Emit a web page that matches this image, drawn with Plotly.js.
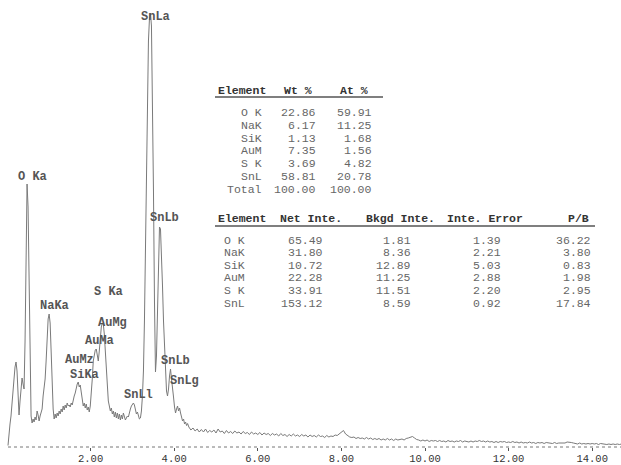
<!DOCTYPE html>
<html>
<head>
<meta charset="utf-8">
<script src="https://cdn.plot.ly/plotly-3.0.1.min.js"></script>
<style>html,body{margin:0;padding:0;background:#fff;}#chart{width:621px;height:465px;}</style>
</head>
<body>
<div id="chart"></div>
<script>
// ---- spectrum data (keV, counts) ----
var energy = [
0.024,0.048,0.072,0.096,0.120,0.144,0.168,0.192,0.216,0.240,
0.264,0.288,0.312,0.336,0.360,0.384,0.408,0.432,0.456,0.480,
0.504,0.528,0.552,0.576,0.600,0.624,0.648,0.672,0.696,0.720,
0.744,0.768,0.792,0.816,0.840,0.864,0.888,0.912,0.936,0.960,
0.984,1.008,1.032,1.056,1.080,1.104,1.128,1.152,1.176,1.200,
1.224,1.248,1.272,1.296,1.320,1.344,1.368,1.392,1.416,1.440,
1.464,1.488,1.512,1.536,1.560,1.584,1.608,1.632,1.656,1.680,
1.704,1.728,1.752,1.776,1.800,1.824,1.848,1.872,1.896,1.920,
1.944,1.968,1.992,2.016,2.040,2.064,2.088,2.112,2.136,2.160,
2.184,2.208,2.232,2.256,2.280,2.304,2.328,2.352,2.376,2.400,
2.424,2.448,2.472,2.496,2.520,2.544,2.568,2.592,2.616,2.640,
2.664,2.688,2.712,2.736,2.760,2.784,2.808,2.832,2.856,2.880,
2.904,2.928,2.952,2.976,3.000,3.024,3.048,3.072,3.096,3.120,
3.144,3.168,3.192,3.216,3.240,3.264,3.288,3.312,3.336,3.360,
3.384,3.408,3.432,3.456,3.480,3.504,3.528,3.552,3.576,3.600,
3.624,3.648,3.672,3.696,3.720,3.744,3.768,3.792,3.816,3.840,
3.864,3.888,3.912,3.936,3.960,3.984,4.008,4.032,4.056,4.080,
4.104,4.128,4.152,4.176,4.200,4.224,4.248,4.272,4.296,4.320,
4.35,4.40,4.45,4.50,4.55,4.60,4.65,4.70,4.75,4.80,
4.85,4.90,4.95,5.00,5.05,5.10,5.15,5.20,5.25,5.30,
5.35,5.40,5.45,5.50,5.55,5.60,5.65,5.70,5.75,5.80,
5.85,5.90,5.95,6.00,6.05,6.10,6.15,6.20,6.25,6.30,
6.35,6.40,6.45,6.50,6.55,6.60,6.65,6.70,6.75,6.80,
6.85,6.90,6.95,7.00,7.05,7.10,7.15,7.20,7.25,7.30,
7.35,7.40,7.45,7.50,7.55,7.60,7.65,7.70,7.75,7.80,
7.85,7.90,7.95,8.00,8.05,8.10,8.15,8.20,8.25,8.30,
8.35,8.40,8.45,8.50,8.55,8.60,8.65,8.70,8.75,8.80,
8.85,8.90,8.95,9.00,9.05,9.10,9.15,9.20,9.25,9.30,
9.35,9.40,9.45,9.50,9.55,9.60,9.65,9.70,9.75,9.80,
9.85,9.90,9.95,10.00,10.05,10.10,10.15,10.20,10.25,10.30,
10.35,10.40,10.45,10.50,10.55,10.60,10.65,10.70,10.75,10.80,
10.85,10.90,10.95,11.00,11.05,11.10,11.15,11.20,11.25,11.30,
11.35,11.40,11.45,11.50,11.55,11.60,11.65,11.70,11.75,11.80,
11.85,11.90,11.95,12.00,12.05,12.10,12.15,12.20,12.25,12.30,
12.35,12.40,12.45,12.50,12.55,12.60,12.65,12.70,12.75,12.80,
12.85,12.90,12.95,13.00,13.05,13.10,13.15,13.20,13.25,13.30,
13.35,13.40,13.45,13.50,13.55,13.60,13.65,13.70,13.75,13.80,
13.85,13.90,13.95,14.00,14.05,14.10,14.15,14.20,14.25,14.30,
14.35,14.40,14.45,14.50,14.55,14.60,14.65,14.70
];
var counts = [
1.5,16,23,31,41,56,68,80,85,76,
51,32,46,61,69,63,58,106,206,263,
240,156,66,31,24,28,25,30,27,36,
32,26,31,35,38,51,61,68,86,111,
128,133,124,96,61,38,28,33,29,34,
31,36,33,38,35,41,37,42,39,44,
41,42,40,44,42,48,51,54,60,63,
65,60,62,53,46,41,44,39,43,37,
40,35,41,51,68,86,94,97,98,91,
86,96,111,120,124,123,113,94,71,54,
46,41,36,39,33,36,30,35,29,34,
28,33,27,32,28,34,30,27,29,31,
30,35,38,41,42,44,42,37,33,35,
30,28,29,36,51,76,126,196,276,351,
406,428,434,421,356,256,146,75,91,146,
201,220,218,196,161,126,96,71,56,51,
58,71,78,68,61,50,40,34,38,41,
36,39,34,28,26,28,23,25,21.5,23.5,
20,17,19,16,18,15,17.5,15,18,14.5,
16.5,15,17,14,18,15,16,13.5,16.5,14,
15.5,13.5,16,14,15,13,15.5,13.5,14.5,12.5,
15,13,14,12.5,14.5,12,14,12.5,13.5,11.5,
13.5,12,13,11,13.5,11.5,12.5,10.5,12.5,11,
13,11,12,10.5,12.5,11,12,10,12,10.5,
11.5,10,12,10.5,11,9.5,11.5,10,11,10.5,
12,11.5,13.5,14.5,16.5,13,11,10,9.5,10,
8.5,9.5,8.5,9,8,9.5,8,9,7.5,8.5,
7.5,8.5,7,8,7,8.5,7,8,6.5,8,
7,7.5,8,7,8.5,9,10,10.5,9,7.5,
7,6,7,6,7,5.5,6.5,6,6.5,5.5,
6.5,5.5,6,5,6.5,5.5,6,5,6,5.5,
6.5,5,6,5.5,5,6,5,6,5.5,6.5,
5.5,6,5,6,5,5.5,4.5,5.5,4.5,5.5,
5,5.5,4.5,5,4.5,5.5,4.5,5,4,5,
4,4.5,4,5,4,4.5,3.5,4.5,4,4.5,
3.5,4.5,4,4,3.5,4.5,3.5,4,4,4.5,
4,5,5,4.5,4,3.5,3,4,3,3.5,
3,3.5,3,3.5,3,3.5,2.5,3.5,3,3,
2.5,3,2.5,3,2.5,3,2.5,3
];

// ---- axis ticks ----
var tickVals = [2, 4, 6, 8, 10, 12, 14];
var tickText = ["2.00", "4.00", "6.00", "8.00", "10.00", "12.00", "14.00"];

// ---- peak labels ----
var peakLabels = ["O Ka", "NaKa", "SiKa", "AuMz", "AuMa", "AuMg", "S Ka", "SnLl", "SnLa", "SnLb", "SnLb", "SnLg"];

// ---- quantification tables ----
var t1Header = ["Element", "Wt %", "At %"];
var t1Elements = ["O K", "NaK", "SiK", "AuM", "S K", "SnL", "Total"];
var t1Wt = ["22.86", "6.17", "1.13", "7.35", "3.69", "58.81", "100.00"];
var t1At = ["59.91", "11.25", "1.68", "1.56", "4.82", "20.78", "100.00"];

var t2Header = ["Element", "Net Inte.", "Bkgd Inte.", "Inte. Error", "P/B"];
var t2Elements = ["O K", "NaK", "SiK", "AuM", "S K", "SnL"];
var t2Net = ["65.49", "31.80", "10.72", "22.28", "33.91", "153.12"];
var t2Bkgd = ["1.81", "8.36", "12.89", "11.25", "11.51", "8.59"];
var t2Err = ["1.39", "2.21", "5.03", "2.88", "2.20", "0.92"];
var t2PB = ["36.22", "3.80", "0.83", "1.98", "2.95", "17.84"];

// ---- layout helpers (pixel -> paper) ----
var W = 621, H = 465, ML = 7, MR = 0, MT = 0, MB = 18;
var PW = W - ML - MR, PH = H - MT - MB;
function px(x) { return (x - ML) / PW; }
function py(y) { return (PH + MT - y) / PH; }

var mono = "Liberation Mono, Courier New, monospace";
var annotations = [];
var shapes = [];

// peak label positions (pixel centers)
var peakPos = [[32,177],[54,306],[84,375],[79.5,360],[99.5,341],[112.5,323],[108,292],[138,395],[155,17],[164,218],[175,361],[184,381]];
peakLabels.forEach(function (t, i) {
  annotations.push({
    xref: "paper", yref: "paper", x: px(peakPos[i][0]), y: py(peakPos[i][1]),
    xanchor: "center", yanchor: "middle", showarrow: false, text: "<b>" + t + "</b>",
    font: { family: mono, size: 12, color: "#555" }
  });
});

function cell(text, x, y, anchor, bold, color) {
  annotations.push({
    xref: "paper", yref: "paper", x: px(x), y: py(y), xanchor: anchor, yanchor: "middle",
    showarrow: false, text: bold ? "<b>" + text + "</b>" : text,
    font: { family: mono, size: 11.5, color: color }
  });
}

// table 1
var t1HeadX = [216, 282, 338];
t1Header.forEach(function (h, i) { cell(h, t1HeadX[i], 91, "left", true, "#333"); });
shapes.push({ type: "line", xref: "paper", yref: "paper", x0: px(215), x1: px(383), y0: py(97), y1: py(97), line: { color: "#555", width: 1.5 } });
t1Elements.forEach(function (e, r) {
  var y = 112.5 + r * 12.8;
  cell(e, 264, y, "right", false, "#666");
  cell(t1Wt[r], 318, y, "right", false, "#666");
  cell(t1At[r], 374, y, "right", false, "#666");
});

// table 2
var t2HeadX = [216, 278, 364, 445, 566];
t2Header.forEach(function (h, i) { cell(h, t2HeadX[i], 219, "left", true, "#333"); });
shapes.push({ type: "line", xref: "paper", yref: "paper", x0: px(215), x1: px(595), y0: py(226), y1: py(226), line: { color: "#555", width: 1.5 } });
var t2Cols = [t2Elements, t2Net, t2Bkgd, t2Err, t2PB];
var t2Right = [247, 325, 413, 503, 593];
t2Elements.forEach(function (e, r) {
  var y = 240 + r * 12.6;
  t2Cols.forEach(function (col, c) { cell(col[r], t2Right[c], y, "right", false, "#666"); });
});

// dotted baseline axis
shapes.push({ type: "line", xref: "paper", yref: "paper", x0: px(8), x1: 1, y0: 0, y1: 0, line: { color: "#777", width: 1, dash: "dot" } });

var trace = {
  x: energy, y: counts, type: "scatter", mode: "lines",
  line: { color: "#7a7a7a", width: 1 }, hoverinfo: "skip"
};

var layout = {
  width: W, height: H,
  margin: { l: ML, r: MR, t: MT, b: MB, pad: 0 },
  paper_bgcolor: "#fff", plot_bgcolor: "#fff",
  showlegend: false,
  xaxis: {
    range: [0, PW / 41.8], tickvals: tickVals, ticktext: tickText,
    ticks: "outside", ticklen: 3, tickcolor: "#555", tickwidth: 1,
    ticklabelstandoff: -2,
    showgrid: false, zeroline: false, showline: false,
    tickfont: { family: mono, size: 10.5, color: "#333" }
  },
  yaxis: { range: [0, PH], visible: false, showgrid: false, zeroline: false },
  annotations: annotations,
  shapes: shapes
};

Plotly.newPlot("chart", [trace], layout, { displayModeBar: false, staticPlot: true });
</script>
</body>
</html>
